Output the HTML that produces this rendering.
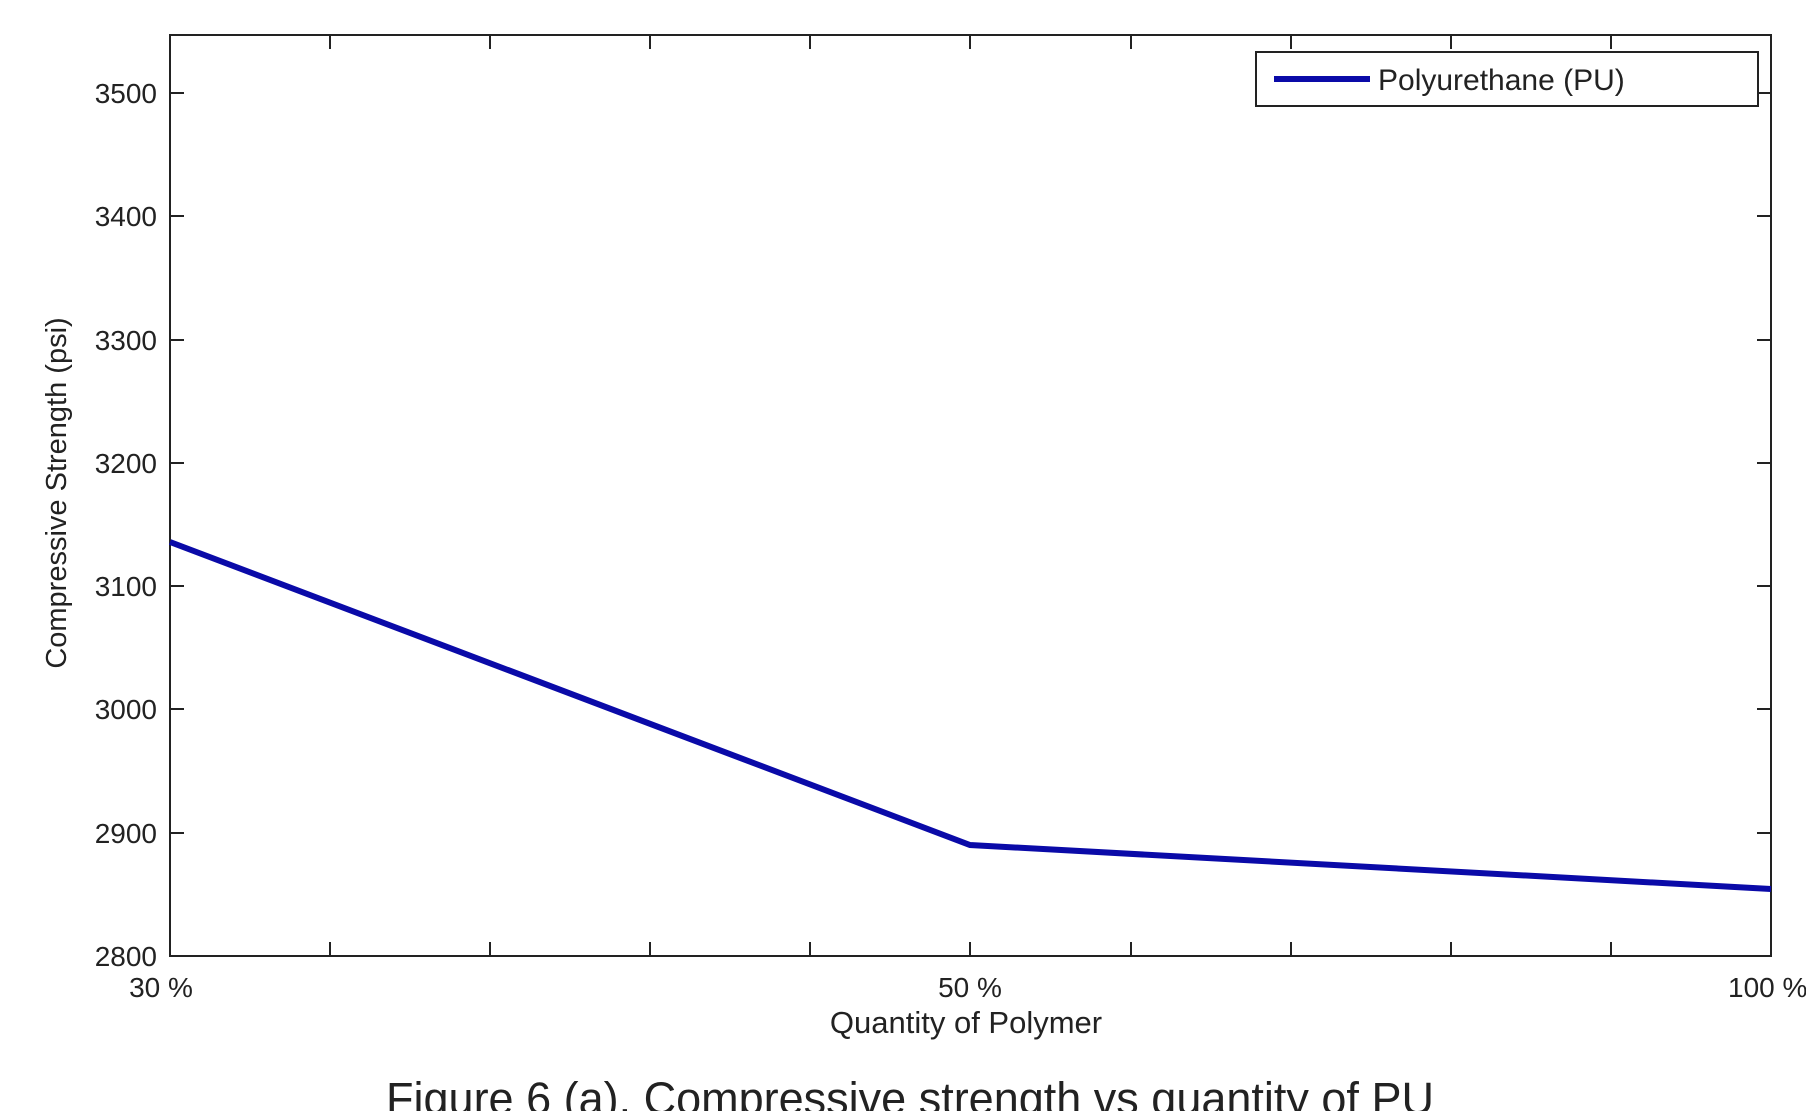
<!DOCTYPE html>
<html><head><style>
body{margin:0;background:#fff;}
svg text{font-family:"Liberation Sans",sans-serif;fill:#222;}
</style></head><body>
<svg width="1806" height="1111" xmlns="http://www.w3.org/2000/svg">
<rect width="1806" height="1111" fill="#fff"/>
<g stroke="#222" stroke-width="2" fill="none">
<rect x="170" y="35" width="1601" height="921"/>
<path d="M330 956v-14M490 956v-14M650 956v-14M810 956v-14M970 956v-14M1131 956v-14M1291 956v-14M1451 956v-14M1611 956v-14
M330 35v14M490 35v14M650 35v14M810 35v14M970 35v14M1131 35v14M1291 35v14M1451 35v14M1611 35v14
M170 93h14M170 216h14M170 340h14M170 463h14M170 586h14M170 709h14M170 833h14
M1771 93h-14M1771 216h-14M1771 340h-14M1771 463h-14M1771 586h-14M1771 709h-14M1771 833h-14"/>
</g>
<polyline points="170,542 970,845 1771,889" fill="none" stroke="#0a0aa8" stroke-width="6"/>
<g font-size="28" text-anchor="end">
<text x="157" y="103">3500</text><text x="157" y="226">3400</text><text x="157" y="350">3300</text>
<text x="157" y="473">3200</text><text x="157" y="596">3100</text><text x="157" y="719">3000</text>
<text x="157" y="843">2900</text><text x="157" y="966">2800</text>
</g>
<g font-size="28" text-anchor="middle">
<text x="161" y="997">30 %</text><text x="970" y="997">50 %</text>
<text x="966" y="1033" font-size="31">Quantity of Polymer</text>
<text transform="translate(66,493) rotate(-90)" font-size="29">Compressive Strength (psi)</text>
</g>
<text x="1728" y="997" font-size="28">100 %</text>
<rect x="1256" y="52" width="502" height="54" fill="#fff" stroke="#222" stroke-width="2"/>
<line x1="1274" y1="79" x2="1370" y2="79" stroke="#0a0aa8" stroke-width="6"/>
<text x="1378" y="90" font-size="30">Polyurethane (PU)</text>
<text x="910" y="1114" font-size="45" text-anchor="middle">Figure 6 (a). Compressive strength vs quantity of PU</text>
</svg>
</body></html>
